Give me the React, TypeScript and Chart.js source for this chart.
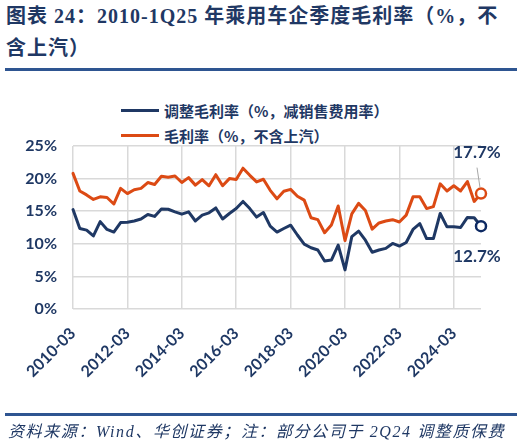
import { useEffect, useRef } from 'react';
import { Chart, registerables } from 'chart.js';

Chart.register(...registerables);

// quarters 2010-03 ... 2025-03
const quarters: string[] = [];
for (let y = 2010; y <= 2025; y++) {
  for (const m of ['03', '06', '09', '12']) {
    if (y === 2025 && m !== '03') continue;
    quarters.push(`${y}-${m}`);
  }
}

const seriesNames = ['调整毛利率（%，减销售费用率）', '毛利率（%，不含上汽）'];

// 调整毛利率（减销售费用率）
const adjustedMargin = [
  15.25, 12.35, 12.1, 11.2, 13.4, 12.2, 11.8, 13.25, 13.3, 13.5,
  13.8, 14.5, 14.2, 15.35, 15.3, 14.9, 14.55, 14.9, 13.5, 14.4,
  14.75, 15.5, 13.8, 14.65, 15.4, 16.5, 15.4, 14.1, 14.8, 12.7,
  11.8, 12.35, 12.85, 11.35, 9.95, 9.4, 9.05, 7.35, 7.5, 9.8,
  6.0, 11.1, 11.95, 10.55, 8.7, 9.05, 9.3, 10.05, 9.65, 10.2,
  12.2, 13.1, 10.8, 10.8, 14.65, 12.6, 12.6, 12.5, 14.05, 14.0,
  12.7,
];

// 毛利率（不含上汽）
const grossMargin = [
  20.8, 18.1, 17.5, 16.8, 17.2, 17.1, 16.1, 18.5, 17.7, 18.3,
  18.5, 19.4, 19.1, 20.35, 20.2, 20.4, 19.4, 20.15, 19.0, 19.85,
  18.9, 20.6, 18.9, 20.0, 19.85, 21.6, 20.5, 19.5, 19.9, 18.2,
  16.9, 18.05, 18.35, 17.3, 16.7, 14.0, 13.7, 11.7, 12.9, 15.8,
  10.5, 14.6, 16.2, 15.1, 12.25, 13.2, 13.5, 13.7, 13.35, 14.4,
  17.2, 17.2, 15.4, 15.7, 19.2, 18.1, 18.9, 18.1, 19.55, 16.5,
  17.7,
];

const NAVY = '#1F3864';
const NAVY_DOT = '#0E2A63';
const ORANGE = '#DC4A14';
const GRID = '#D9D9D9';
const FONT = "Lato, 'Noto Sans CJK SC', sans-serif";
const CJK = "'Noto Sans CJK SC', sans-serif";
const LAST = quarters.length - 1;

const endLabels = {
  id: 'endLabels',
  afterDatasetsDraw(chart: any) {
    const { ctx } = chart;
    const pBlue = chart.getDatasetMeta(0).data[LAST];
    const pOrange = chart.getDatasetMeta(1).data[LAST];
    ctx.save();
    ctx.strokeStyle = '#A6A6A6';
    ctx.lineWidth = 1;
    ctx.beginPath();
    ctx.moveTo(pOrange.x - 4, pOrange.y - 26);
    ctx.lineTo(pOrange.x - 1, pOrange.y - 6);
    ctx.stroke();
    ctx.font = `bold 17px ${FONT}`;
    ctx.fillStyle = NAVY;
    ctx.textAlign = 'center';
    ctx.textBaseline = 'middle';
    ctx.fillText(`${grossMargin[LAST].toFixed(1)}%`, pOrange.x - 4, pOrange.y - 41);
    ctx.fillText(`${adjustedMargin[LAST].toFixed(1)}%`, pBlue.x - 4, pBlue.y + 30);
    ctx.restore();
  },
};

const lastOnly = (r: number) => (c: any) => (c.dataIndex === LAST ? r : 0);

const MarginChart = () => {
  const ref = useRef<HTMLCanvasElement>(null);

  useEffect(() => {
    if (ref.current == null) return () => {};
    const chart = new Chart(ref.current, {
      type: 'line',
      data: {
        labels: quarters,
        datasets: [
          {
            label: seriesNames[0],
            data: adjustedMargin,
            borderColor: NAVY,
            borderWidth: 3,
            pointRadius: lastOnly(5),
            pointHoverRadius: lastOnly(5),
            pointBorderWidth: 2.5,
            pointBorderColor: NAVY_DOT,
            pointBackgroundColor: '#FFFFFF',
          },
          {
            label: seriesNames[1],
            data: grossMargin,
            borderColor: ORANGE,
            borderWidth: 3,
            pointRadius: lastOnly(5),
            pointHoverRadius: lastOnly(5),
            pointBorderWidth: 2.5,
            pointBorderColor: ORANGE,
            pointBackgroundColor: '#FFFFFF',
          },
        ],
      },
      options: {
        animation: false,
        responsive: true,
        maintainAspectRatio: false,
        elements: { line: { tension: 0, borderJoinStyle: 'round', borderCapStyle: 'round' } },
        layout: { padding: { top: 146, right: 43, bottom: 59, left: 0 } },
        plugins: { legend: { display: false }, tooltip: { enabled: false } },
        scales: {
          x: {
            offset: false,
            grid: {
              drawTicks: false,
              lineWidth: 1.5,
              color: (c: any) => (c.index % 8 === 0 ? GRID : 'rgba(0,0,0,0)'),
            },
            border: { display: false },
            ticks: {
              autoSkip: false,
              maxRotation: 45,
              minRotation: 45,
              padding: 15,
              color: NAVY,
              font: { family: FONT, size: 16, weight: 'bold' },
              callback: (_v: any, i: number) => (i % 8 === 0 ? quarters[i] : ''),
            },
            afterFit: (s: any) => {
              s.height = 80;
            },
          },
          y: {
            min: 0,
            max: 25,
            grid: { drawTicks: false, lineWidth: 1.5, color: GRID },
            border: { display: false },
            ticks: {
              stepSize: 5,
              padding: 16,
              color: NAVY,
              font: { family: FONT, size: 16, weight: 'bold' },
              callback: (v: any) => `${v}%`,
            },
            afterFit: (s: any) => {
              s.width = 73;
            },
          },
        },
      },
      plugins: [endLabels],
    });
    return () => {
      chart.destroy();
    };
  }, []);

  return (
    <div style={{ position: 'absolute', left: 0, top: 0, width: 524, height: 448 }}>
      <canvas ref={ref} />
    </div>
  );
};

const legendRow = (name: string, color: string, top: number) => (
  <div
    style={{
      position: 'absolute',
      left: 121,
      top,
      height: 20,
      display: 'flex',
      alignItems: 'center',
      whiteSpace: 'nowrap',
    }}
  >
    <span style={{ width: 38, height: 3, background: color, marginRight: 5 }} />
    <span style={{ font: `bold 15px ${CJK}`, color: NAVY }}>{name}</span>
  </div>
);

const App = () => {
  return (
    <div style={{ position: 'absolute', left: 0, top: 0, width: 524, height: 448, background: '#fff' }}>
      <div
        style={{
          position: 'absolute',
          left: 6,
          top: 0,
          width: 520,
          font: `bold 20px/32px 'Liberation Serif', ${CJK}`,
          letterSpacing: 1,
          color: NAVY,
          whiteSpace: 'nowrap',
        }}
      >
        图表 24：2010-1Q25 年乘用车企季度毛利率（%，不
        <br />
        含上汽）
      </div>
      <div style={{ position: 'absolute', left: 5, top: 68, width: 512, height: 2.5, background: '#2E5591' }} />
      {legendRow(seriesNames[0], NAVY, 100)}
      {legendRow(seriesNames[1], ORANGE, 125)}
      <MarginChart />
      <div style={{ position: 'absolute', left: 5, top: 413, width: 512, height: 2.5, background: '#2E5591' }} />
      <div
        style={{
          position: 'absolute',
          left: 8,
          top: 421,
          font: `italic 16px/22px 'Liberation Serif', ${CJK}`,
          letterSpacing: 1.6,
          color: NAVY,
          whiteSpace: 'nowrap',
        }}
      >
        资料来源：Wind、华创证券；注：部分公司于 2Q24 调整质保费
      </div>
    </div>
  );
};

export default App;
